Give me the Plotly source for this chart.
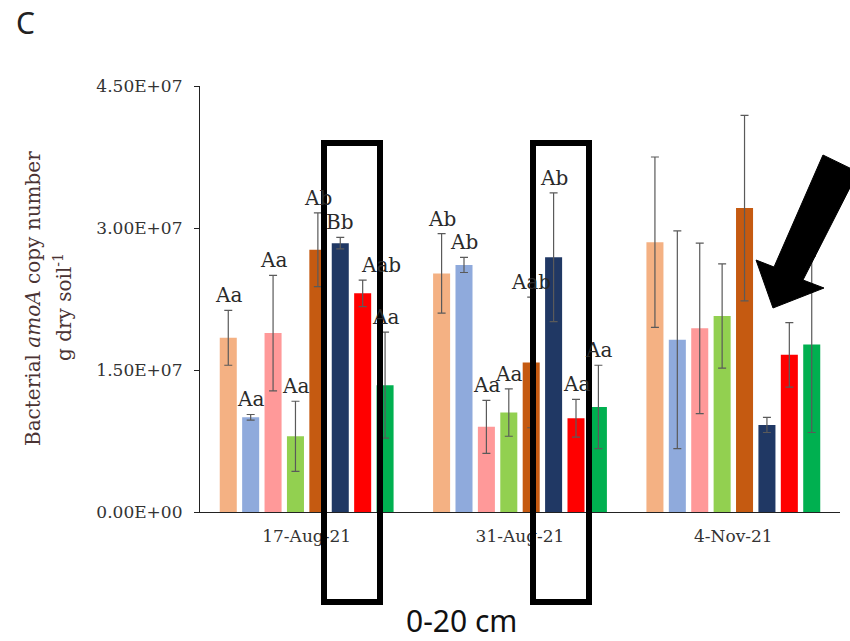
import plotly.graph_objects as go

dates = ["17-Aug-21", "31-Aug-21", "4-Nov-21"]
series_names = ["T1", "T2", "T3", "T4", "T5", "T6", "T7", "T8"]
colors = ["#F4B183", "#8FAADC", "#FF9999", "#92D050", "#C55A11", "#203864", "#FF0000", "#00B050"]

# mean copy numbers (per series, per date)
s1 = [1.84e7, 2.52e7, 2.85e7]
s2 = [1.00e7, 2.61e7, 1.82e7]
s3 = [1.89e7, 0.90e7, 1.94e7]
s4 = [0.80e7, 1.05e7, 2.07e7]
s5 = [2.77e7, 1.58e7, 3.21e7]
s6 = [2.84e7, 2.69e7, 0.92e7]
s7 = [2.31e7, 0.99e7, 1.66e7]
s8 = [1.34e7, 1.11e7, 1.77e7]
values = [s1, s2, s3, s4, s5, s6, s7, s8]

# error bars
e1 = [0.29e7, 0.42e7, 0.90e7]
e2 = [0.03e7, 0.08e7, 1.15e7]
e3 = [0.61e7, 0.28e7, 0.90e7]
e4 = [0.37e7, 0.25e7, 0.55e7]
e5 = [0.39e7, 0.69e7, 0.98e7]
e6 = [0.06e7, 0.68e7, 0.08e7]
e7 = [0.14e7, 0.20e7, 0.34e7]
e8 = [0.56e7, 0.44e7, 0.93e7]
errors = [e1, e2, e3, e4, e5, e6, e7, e8]

# significance letters per date (series order)
letters_aug17 = ["Aa", "Aa", "Aa", "Aa", "Ab", "Bb", "Aab", "Aa"]
letters_aug31 = ["Ab", "Ab", "Aa", "Aa", "Aab", "Ab", "Aa", "Aa"]
letters = [letters_aug17, letters_aug31, None]

y_tickvals = [0, 1.5e7, 3.0e7, 4.5e7]
y_ticktext = ["0.00E+00", "1.50E+07", "3.00E+07", "4.50E+07"]

SERIF = "DejaVu Serif"
BARGAP = 0.16
GROUPGAP = 0.24

fig = go.Figure()
for name, col, v, e in zip(series_names, colors, values, errors):
    fig.add_trace(go.Bar(
        x=dates, y=v, name=name, marker=dict(color=col, line=dict(width=0)),
        error_y=dict(type="data", array=e, visible=True, color="#5a5a5a", thickness=1.2, width=4),
        showlegend=False,
    ))

# significance letters above the error bars
n = len(series_names)
pitch = (1 - BARGAP) / n
label_xshift = {(0, 6): 18}
for gi, labs in enumerate(letters):
    if labs is None:
        continue
    for si, lab in enumerate(labs):
        xpos = gi - (1 - BARGAP) / 2 + pitch * (si + 0.5)
        fig.add_annotation(
            x=xpos, y=values[si][gi] + errors[si][gi], xref="x", yref="y",
            text=lab, showarrow=False, xanchor="center", yanchor="bottom", yshift=1,
            xshift=label_xshift.get((gi, si), 0),
            font=dict(family=SERIF, size=20, color="#2a2a2a"),
        )

# plot area in pixels: x 200..840, y 86..512
L, R, T, B = 200, 840, 86, 512
def px(x):
    return (x - L) / (R - L)
def py(y):
    return (B - y) / (B - T)

# highlight boxes
for x0, x1 in [(324, 380), (533, 589)]:
    fig.add_shape(type="rect", xref="paper", yref="paper",
                  x0=px(x0), x1=px(x1), y0=py(602), y1=py(143),
                  line=dict(color="black", width=6), layer="above")

# arrow
pts = [(823, 155), (858, 172), (803, 280), (824, 288), (773, 308), (756, 260), (774, 267)]
path = "M " + " L ".join(f"{px(a):.4f},{py(b):.4f}" for a, b in pts) + " Z"
fig.add_shape(type="path", xref="paper", yref="paper", path=path,
              fillcolor="black", line=dict(color="black", width=1), layer="above")

# y title (two lines)
fig.add_annotation(xref="paper", yref="paper", x=px(33), y=py(299), text="Bacterial <i>amoA</i> copy number",
                   textangle=-90, showarrow=False, xanchor="center", yanchor="middle",
                   font=dict(family=SERIF, size=20, color="#4a3333"))
fig.add_annotation(xref="paper", yref="paper", x=px(63), y=py(307), text="g dry soil<sup>-1</sup>",
                   textangle=-90, showarrow=False, xanchor="center", yanchor="middle",
                   font=dict(family=SERIF, size=20, color="#4a3333"))

# panel letter and depth label
fig.add_annotation(xref="paper", yref="paper", x=px(25), y=py(22), text="C", showarrow=False,
                   xanchor="center", yanchor="middle",
                   font=dict(family="Noto Sans", size=30, color="#222222"))
fig.add_annotation(xref="paper", yref="paper", x=px(461), y=py(620), text="0-20 cm", showarrow=False,
                   xanchor="center", yanchor="middle",
                   font=dict(family="Noto Sans", size=30, color="#111111"))

fig.update_layout(
    width=850, height=641,
    margin=dict(l=L, r=850 - R, t=T, b=641 - B),
    paper_bgcolor="white", plot_bgcolor="white",
    barmode="group", bargap=BARGAP, bargroupgap=GROUPGAP,
    showlegend=False,
    xaxis=dict(type="category", showline=True, linecolor="#222222", linewidth=1.2,
               ticks="", showgrid=False, tickfont=dict(family=SERIF, size=17, color="#333333"),
               ticklabelstandoff=8, range=[-0.5, 2.5]),
    yaxis=dict(range=[0, 4.5e7], tickvals=y_tickvals, ticktext=y_ticktext,
               showline=True, linecolor="#222222", linewidth=1.2, ticks="outside", ticklen=5,
               tickcolor="#222222", showgrid=False, zeroline=False,
               tickfont=dict(family=SERIF, size=17, color="#333333"), ticklabelstandoff=8),
)

fig.write_html("out.html")
